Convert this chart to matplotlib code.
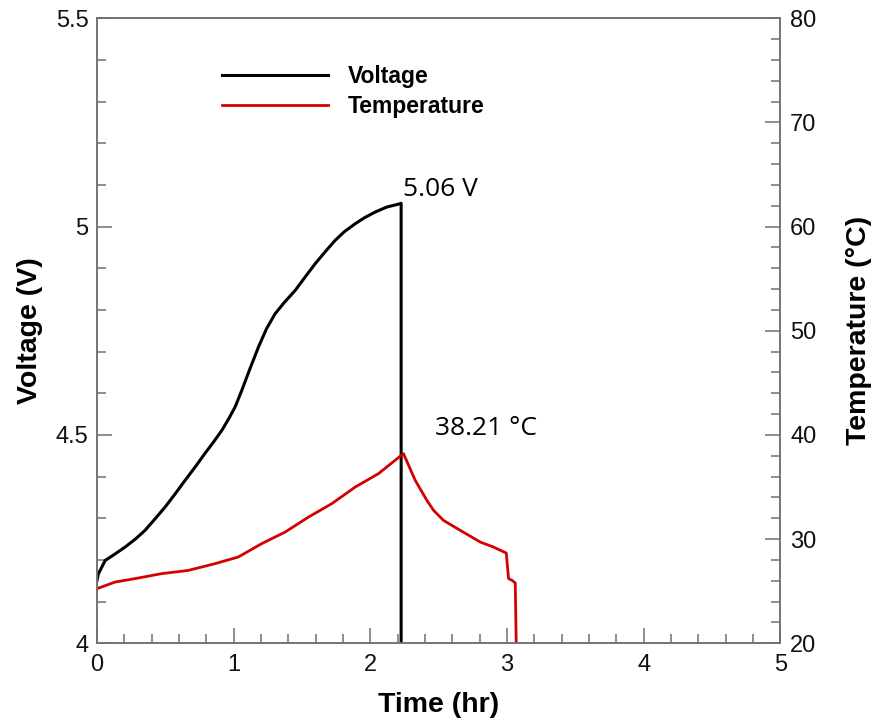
import matplotlib.pyplot as plt
from matplotlib.ticker import MultipleLocator

# values
time_v = [0.0, 0.01, 0.06, 0.13, 0.205, 0.28, 0.351, 0.42, 0.498, 0.57, 0.644, 0.72,
          0.79, 0.85, 0.913, 0.96, 1.01, 1.059, 1.12, 1.181, 1.24, 1.303, 1.37, 1.45,
          1.52, 1.596, 1.67, 1.742, 1.81, 1.889, 1.96, 2.035, 2.12, 2.206, 2.225, 2.225]
voltage = [4.151, 4.167, 4.199, 4.214, 4.231, 4.25, 4.271, 4.297, 4.327, 4.358, 4.391,
           4.424, 4.456, 4.482, 4.511, 4.537, 4.567, 4.607, 4.66, 4.711, 4.755, 4.791,
           4.818, 4.847, 4.878, 4.911, 4.94, 4.967, 4.988, 5.007, 5.022, 5.035, 5.047,
           5.054, 5.056, 4.0]

time_t = [0.0, 0.132, 0.278, 0.473, 0.668, 0.864, 1.034, 1.205, 1.376, 1.547, 1.718,
          1.889, 2.059, 2.242, 2.328, 2.413, 2.462, 2.535, 2.657, 2.804, 2.9, 2.994,
          3.011, 3.036, 3.06, 3.067]
temperature = [25.25, 25.88, 26.21, 26.69, 27.0, 27.65, 28.29, 29.57, 30.68, 32.12, 33.41,
               35.0, 36.29, 38.21, 35.65, 33.73, 32.77, 31.8, 30.85, 29.72, 29.24, 28.67,
               26.21, 26.05, 25.79, 20.0]

labels = ['Voltage', 'Temperature']
peak_v_text = '5.06 V'
peak_t_text = '38.21 °C'

plt.rcParams['font.family'] = ['Liberation Sans', 'DejaVu Sans']
axis_grey = '#707070'
red = '#d40000'

fig = plt.figure(figsize=(8.71, 7.23), dpi=100)
ax = fig.add_axes([0.1114, 0.1102, 0.7846, 0.8645])
ax2 = ax.twinx()

l1, = ax.plot(time_v, voltage, color='black', lw=2.2, label=labels[0])
l2, = ax2.plot(time_t, temperature, color=red, lw=2.0, label=labels[1])

ax.set_xlim(0, 5)
ax.set_ylim(4, 5.5)
ax2.set_ylim(20, 80)

ax.xaxis.set_major_locator(MultipleLocator(1))
ax.xaxis.set_minor_locator(MultipleLocator(0.2))
ax.yaxis.set_major_locator(MultipleLocator(0.5))
ax.yaxis.set_minor_locator(MultipleLocator(0.1))
ax2.yaxis.set_major_locator(MultipleLocator(10))
ax2.yaxis.set_minor_locator(MultipleLocator(2))
ax.yaxis.set_major_formatter(plt.FuncFormatter(lambda v, p: f'{v:g}'))

for a in (ax, ax2):
    for s in a.spines.values():
        s.set_color(axis_grey)
        s.set_linewidth(1.1)
    a.tick_params(which='both', direction='in', color=axis_grey, width=1.1,
                  labelsize=17, labelcolor='#111111')
    a.tick_params(which='major', length=11)
    a.tick_params(which='minor', length=6.5)
ax.tick_params(axis='x', pad=8)
ax.tick_params(axis='y', pad=6)
ax2.tick_params(axis='y', pad=7)

ax.set_xlabel('Time (hr)', fontsize=20.5, fontweight='bold', labelpad=11)
ax.set_ylabel('Voltage (V)', fontsize=20.5, fontweight='bold', labelpad=9)
ax2.set_ylabel('Temperature (°C)', fontsize=20.5, fontweight='bold', labelpad=21)

ax.text(2.24, 5.073, peak_v_text, fontsize=19, family=['Open Sans', 'DejaVu Sans'])
ax2.text(2.47, 40.0, peak_t_text, fontsize=19, family=['Open Sans', 'DejaVu Sans'])

ax.legend(handles=[l1, l2], loc='upper left', bbox_to_anchor=(0.183, 0.925),
          frameon=False, prop={'weight': 'bold', 'size': 16.5},
          handlelength=4.6, handletextpad=0.87, labelspacing=0.28,
          borderpad=0, borderaxespad=0)

fig.savefig('out.png', dpi=100)
